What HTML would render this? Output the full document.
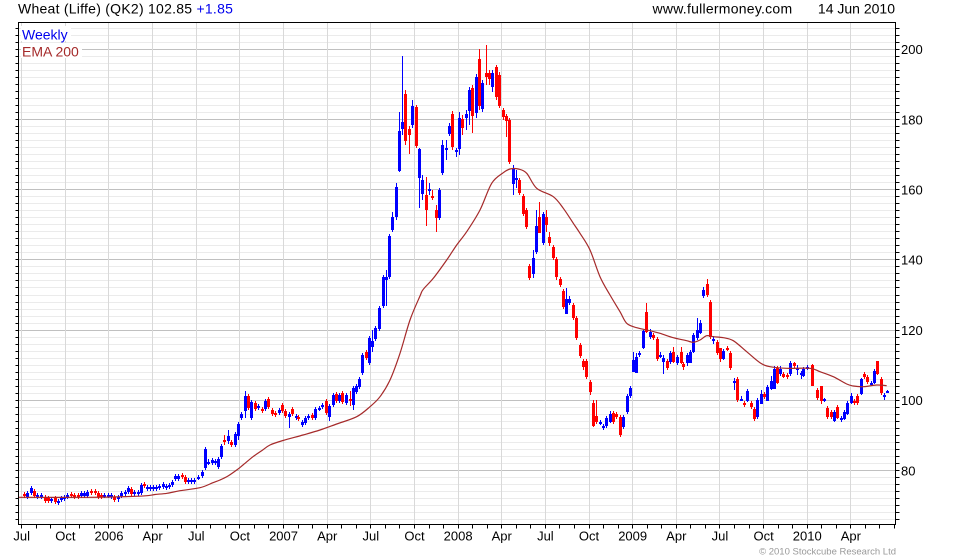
<!DOCTYPE html>
<html><head><meta charset="utf-8">
<style>
html,body{margin:0;padding:0;background:#fff;}
body{width:980px;height:560px;overflow:hidden;position:relative;}
svg{position:absolute;left:0;top:0;}
text{font-family:"Liberation Sans",Arial,sans-serif;}
</style></head>
<body>
<svg id="c" width="980" height="560" xmlns="http://www.w3.org/2000/svg">
<rect x="0" y="0" width="980" height="560" fill="#fff"/>
<g id="grid" shape-rendering="crispEdges"></g>
<g id="cand" shape-rendering="crispEdges"></g>
<path id="ema" fill="none" stroke="#a52a2a" stroke-width="1.2" d=""/>
<rect x="18.5" y="22.5" width="877" height="502" fill="none" stroke="#000" stroke-width="1" shape-rendering="crispEdges"/>
<g id="ticks" shape-rendering="crispEdges"></g>
<g id="labels" font-size="13" fill="#000"></g>
<rect x="21" y="26" width="50" height="15" fill="#fff"/>
<rect x="21" y="43" width="61" height="15" fill="#fff"/>
<text x="22" y="39.5" font-size="14" fill="#0000ee">Weekly</text>
<text x="22" y="56.5" font-size="14" fill="#a52a2a">EMA 200</text>
<text x="18" y="13.5" font-size="14" letter-spacing="0.25" fill="#000">Wheat (Liffe) (QK2) 102.85 <tspan fill="#0000ee">+1.85</tspan></text>
<text x="652.5" y="13.5" font-size="14" letter-spacing="0.25" fill="#000">www.fullermoney.com</text>
<text x="895" y="13.5" font-size="14" text-anchor="end" fill="#000">14 Jun 2010</text>
<text x="896" y="554.5" font-size="9.5" text-anchor="end" fill="#999">© 2010 Stockcube Research Ltd</text>
</svg>
<script>
(function(){
var NS='http://www.w3.org/2000/svg';
function el(t,a,p){var e=document.createElementNS(NS,t);for(var k in a)e.setAttribute(k,a[k]);p.appendChild(e);return e;}
var grid=document.getElementById('grid'),ticks=document.getElementById('ticks'),labels=document.getElementById('labels'),cand=document.getElementById('cand');
function Y(p){return 49.3+(200-p)*3.51;}
for(var p=66;p<=206;p+=2){
  var y=Math.floor(Y(p))+0.5;
  if(y<23||y>524)continue;
  var major=(p%20===0);
  el('line',{x1:19,x2:895,y1:y,y2:y,stroke:major?'#c0c0c0':'#ebebeb','stroke-width':1},grid);
  el('line',{x1:15.5,x2:19,y1:y,y2:y,stroke:'#000','stroke-width':1},ticks);
  el('line',{x1:896,x2:899.5,y1:y,y2:y,stroke:'#000','stroke-width':1},ticks);
  if(major){var t=el('text',{x:901,y:Y(p)+4.8},labels);t.textContent=String(p);}
}
var ql=['Jul','Oct','2006','Apr','Jul','Oct','2007','Apr','Jul','Oct','2008','Apr','Jul','Oct','2009','Apr','Jul','Oct','2010','Apr'];
for(var k=0;k<ql.length;k++){
  var x=21.7+43.64*k;var xr=Math.floor(x)+0.5;
  el('line',{x1:xr,x2:xr,y1:23,y2:524,stroke:'#d9d9d9','stroke-width':1},grid);
  var t=el('text',{x:x,y:540.5,'text-anchor':'middle'},labels);t.textContent=ql[k];
}
for(var m=0;m<61;m++){
  var x=21.7+14.547*m; if(x>895)break; var xr=Math.floor(x)+0.5;
  el('line',{x1:xr,x2:xr,y1:525,y2:528.5,stroke:'#000','stroke-width':1},ticks);
}
var D=[
[24,494,496,0],[27,493,497,1],[31,488,493,1],[34,491,496,0],[37,495,497,1],[41,495,497,1],[45,497,501,0],[48,498,501,0],[51,499,501,1],[55,498,502,0],[58,501,503,1],[61,498,500,1],[64,497,499,1],[67,495,498,1,493,499],[71,494,496,0],[74,495,497,0],[78,495,497,0],[81,493,496,1],[84,493,496,1],[87,492,496,1],[91,491,493,0],[95,491,493,0],[98,493,497,0],[101,495,497,0],[104,495,496,1],[108,495,496,1],[111,495,497,1],[114,497,500,0],[118,497,499,1,495,502],[121,493,496,1],[125,492,494,1],[128,488,492,1],[131,489,494,0],[134,492,494,1],[138,492,494,1],[141,485,493,1],[144,484,486,0],[147,487,489,1],[150,487,489,1],[153,487,489,1],[156,487,489,1],[159,486,488,1],[163,484,487,1],[166,486,488,1],[169,485,487,1],[172,482,485,1],[175,476,479,1],[178,476,479,1],[182,475,477,0],[185,477,482,0],[188,480,482,1],[191,480,482,1],[194,480,482,1],[198,477,478,1],[202,472,476,1],[205,449,468,1],[208,462,463,1,459,465],[212,460,463,1],[215,461,463,1],[218,459,467,1],[221,446,457,1],[224,440,442,0,435,445],[228,436,441,1,430,444],[231,442,445,0],[235,434,445,1],[238,424,436,1,422,440],[241,414,418,1],[245,396,411,1,391,418],[248,396,408,0],[251,402,418,1],[255,403,409,0],[258,406,408,1],[262,409,411,0],[265,401,409,1],[268,399,407,0],[272,410,414,0],[275,413,415,0],[279,410,413,1],[282,405,411,0],[285,411,416,0],[289,414,417,1,412,428],[292,409,414,0],[296,416,418,1],[298,417,419,0],[302,422,425,1],[305,418,423,1],[308,416,418,1],[312,415,418,0],[315,409,418,1],[319,408,409,1],[322,405,407,1],[326,401,413,0],[329,406,417,1,404,421],[333,395,405,1],[336,394,401,0],[339,395,401,1],[342,393,402,0],[346,395,403,1],[350,399,401,0,391,406],[353,388,405,1,386,410],[356,386,392,1],[359,379,387,1],[362,355,373,1],[366,352,358,0],[369,338,363,1],[372,341,347,1,330,352],[375,328,339,1],[379,308,329,1],[383,277,306,1],[386,277,280,1,270,306],[389,236,277,1],[392,217,230,1,212,232],[396,187,217,1,183,220],[399,131,171,1,112,172],[402,122,129,1,56,135],[405,94,141,0,90,145],[409,129,135,0,126,154],[412,106,125,1,100,128],[416,107,146,0],[419,149,178,1,148,208],[422,180,194,1,175,200],[426,195,210,0,177,226],[429,189,190,1,183,195],[432,196,198,0,190,200],[436,210,218,0,205,232],[439,190,218,1],[442,145,173,1,140,175],[446,148,149,1,140,160],[449,126,134,1,123,136],[452,114,147,0,111,150],[456,150,151,1,148,157],[459,118,149,1,112,155],[462,119,128,0,115,135],[466,114,118,1,110,130],[469,90,111,1,87,125],[472,88,116,0,85,133],[476,77,113,1,74,118],[479,59,106,0,49,110],[482,83,109,1,80,112],[486,73,77,0,45,85],[489,73,79,0,70,85],[492,73,87,1,70,92],[496,67,97,0,65,100],[499,75,106,0,72,108],[503,110,117,0,108,120],[506,116,121,0,114,137],[509,120,162,0],[513,168,184,1,165,195],[516,178,179,1,170,188],[519,180,193,0,178,195],[523,196,214,0],[526,210,227,0],[529,266,278,0],[533,258,274,1,250,278],[536,226,252,1,210,254],[539,217,233,0,202,233],[543,214,243,1,212,245],[546,217,225,0,210,232],[549,237,243,0,232,246],[553,247,258,0],[556,259,277,0,257,280],[560,279,285,0],[563,291,307,0],[566,299,314,1,288,314],[569,299,303,1,296,305],[573,305,318,0],[576,318,338,0],[580,345,356,0],[583,361,367,0,359,370],[586,361,377,0],[590,382,392,0,380,395],[593,403,426,0,400,427],[596,416,422,0,400,424],[600,422,423,1,420,425],[603,426,428,1],[606,418,426,1],[610,414,422,1,411,423],[613,413,422,0],[616,414,417,0],[620,417,435,0],[623,417,427,1],[627,396,412,1],[630,388,396,1],[633,360,372,1,352,372],[636,357,373,1,353,373],[639,353,355,1],[643,331,348,1,330,349],[646,312,332,0,303,333],[650,332,337,1,329,339],[653,335,338,0],[657,339,359,0],[660,355,357,1,352,358],[663,358,362,1,355,374],[667,361,368,0],[670,353,362,1,351,364],[673,352,362,0,347,363],[677,357,363,1],[681,352,363,0,347,364],[683,364,367,0,362,370],[687,355,363,1,353,366],[690,352,363,1,350,363],[693,335,352,1,333,353],[697,330,338,1,318,340],[700,323,333,1,320,334],[703,290,296,1,287,298],[707,284,295,0,279,297],[710,302,337,0],[713,339,340,1,336,344],[717,342,353,0],[720,348,359,0,348,362],[723,351,359,1,349,360],[727,348,349,0],[730,353,368,0],[734,381,382,1,378,390],[737,379,400,0],[741,399,400,1,396,401],[744,403,405,0],[747,391,401,1,389,402],[751,403,407,0],[754,409,419,0],[757,400,417,1],[761,394,404,1,390,404],[764,394,397,0],[767,387,401,1,385,401],[771,381,389,1,376,390],[774,369,389,1,366,389],[777,368,383,0,366,384],[780,369,374,1,366,376],[783,374,377,0,372,378],[787,375,377,0],[790,363,374,1,361,376],[794,363,366,0,362,368],[797,368,369,1,365,375],[801,373,374,1,371,379],[803,369,376,1,367,377],[807,367,369,1,365,370],[812,365,386,0,364,386],[817,390,398,0],[821,386,401,0,386,404],[824,399,401,1,398,402],[827,408,417,0],[831,412,417,0],[834,412,421,1,410,422],[837,407,418,0,405,419],[841,418,419,1,416,422],[844,412,419,1,410,420],[847,403,414,1,401,415],[851,396,403,1,393,404],[854,401,403,0],[857,396,403,0],[861,379,394,1,378,395],[864,374,377,0],[867,377,382,0],[871,383,385,1,381,386],[874,371,383,1,369,384],[877,361,374,0,361,375],[881,379,393,0],[884,395,397,1,393,400],[887,391,392,1,390,393]
];
for(var i=0;i<D.length;i++){
  var d=D[i],x=d[0],y1=d[1],y2=d[2],col=d[3]?'#0000ff':'#ff0000';
  var wt=d.length>4?d[4]:y1-2, wb=d.length>5?d[5]:y2+2;
  el('rect',{x:x,y:wt,width:1,height:Math.max(wb-wt,1),fill:col},cand);
  el('rect',{x:x-1,y:y1,width:3,height:Math.max(y2-y1,2),fill:col},cand);
}
var E=[[19,497.3],[90,497.3],[130,496.5],[147,495.7],[155,494.5],[167,493.3],[180,490.7],[200,487.7],[213,482.7],[220,480],[228,476],[236.7,470],[243,465],[253,456.7],[262,450.5],[270,445],[283,440.5],[303,435],[320,430],[336.7,424],[356.7,416.7],[370,406.7],[380,396.7],[390,380],[400,353.3],[410,320],[420,296],[423.3,289.3],[433.3,278.3],[446.7,260],[456.7,245],[466.7,231.7],[480,210],[491.7,183.3],[503.3,172.7],[510,169],[518.3,169],[526.7,173.3],[536.7,188.3],[553.3,196.7],[563.3,208.3],[573.3,223.3],[580,233.3],[590,250],[600,276.7],[610,295],[620,311.7],[626.7,323.3],[636.7,327.7],[650,330.7],[660,333.3],[673.3,337.7],[686.7,340.7],[693.3,342.3],[700,340],[706.7,335.7],[713.3,336.7],[723.3,337.7],[733.3,340.7],[746.7,351.7],[760,362.7],[770,366.7],[786.7,368.3],[810,368.3],[820,371.7],[833.3,376.7],[846.7,384],[853.3,386],[863.3,386.7],[876.7,385],[886.7,385.7]];
var s='M'+E[0][0]+','+E[0][1];
for(var j=0;j<E.length-1;j++){
  var p0=E[j>0?j-1:0],p1=E[j],p2=E[j+1],p3=E[j+2<E.length?j+2:E.length-1];
  var t=0.5/3;
  var c1x=p1[0]+(p2[0]-p0[0])*t, c1y=p1[1]+(p2[1]-p0[1])*t;
  var c2x=p2[0]-(p3[0]-p1[0])*t, c2y=p2[1]-(p3[1]-p1[1])*t;
  s+=' C'+c1x.toFixed(2)+','+c1y.toFixed(2)+' '+c2x.toFixed(2)+','+c2y.toFixed(2)+' '+p2[0]+','+p2[1];
}
document.getElementById('ema').setAttribute('d',s);
})();
</script>
</body></html>
